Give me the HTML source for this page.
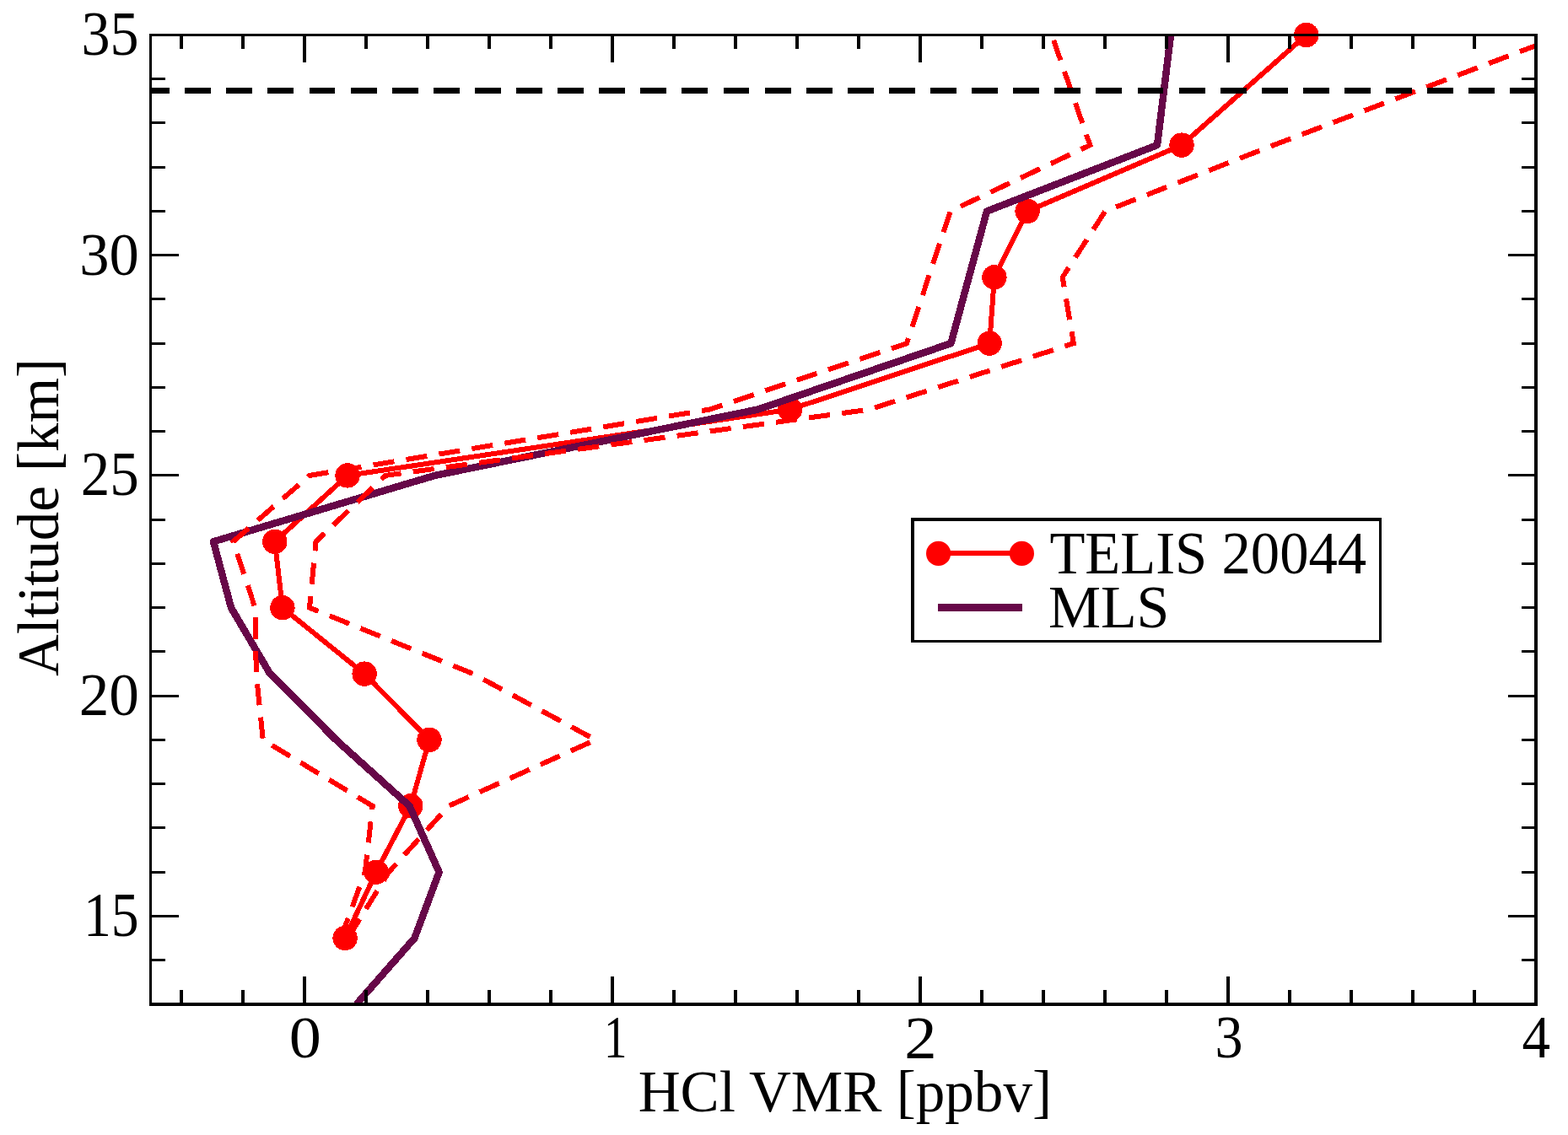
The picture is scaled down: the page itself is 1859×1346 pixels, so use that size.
<!DOCTYPE html><html><head><meta charset="utf-8"><title>HCl VMR profile</title>
<style>html,body{margin:0;padding:0;background:#fff;overflow:hidden;}svg{display:block;}text{font-family:"Liberation Serif", "Times New Roman", serif;fill:#000;}</style></head><body>
<svg width="1859" height="1346" viewBox="0 0 1859 1346">
<rect x="0" y="0" width="1859" height="1346" fill="#fff"/>
<defs><clipPath id="pc"><rect x="178.5" y="41.5" width="1642.5" height="1154"/></clipPath></defs>
<g clip-path="url(#pc)" fill="none" stroke-linejoin="round" shape-rendering="crispEdges">
<polyline points="1548.8,41.5 1401.0,172.1 1218.1,250.5 1178.9,328.8 1173.2,407.2 936.6,485.6 412.0,563.9 325.8,642.3 334.9,720.7 432.1,799.1 509.0,877.4 486.8,955.8 446.0,1034.2 409.1,1112.5" stroke="#ff0000" stroke-width="6"/>
</g>
<circle cx="1548.8" cy="41.5" r="14.7" fill="#ff0000" stroke="none" shape-rendering="crispEdges"/>
<circle cx="1401.0" cy="172.1" r="14.7" fill="#ff0000" stroke="none" shape-rendering="crispEdges"/>
<circle cx="1218.1" cy="250.5" r="14.7" fill="#ff0000" stroke="none" shape-rendering="crispEdges"/>
<circle cx="1178.9" cy="328.8" r="14.7" fill="#ff0000" stroke="none" shape-rendering="crispEdges"/>
<circle cx="1173.2" cy="407.2" r="14.7" fill="#ff0000" stroke="none" shape-rendering="crispEdges"/>
<circle cx="936.6" cy="485.6" r="14.7" fill="#ff0000" stroke="none" shape-rendering="crispEdges"/>
<circle cx="412.0" cy="563.9" r="14.7" fill="#ff0000" stroke="none" shape-rendering="crispEdges"/>
<circle cx="325.8" cy="642.3" r="14.7" fill="#ff0000" stroke="none" shape-rendering="crispEdges"/>
<circle cx="334.9" cy="720.7" r="14.7" fill="#ff0000" stroke="none" shape-rendering="crispEdges"/>
<circle cx="432.1" cy="799.1" r="14.7" fill="#ff0000" stroke="none" shape-rendering="crispEdges"/>
<circle cx="509.0" cy="877.4" r="14.7" fill="#ff0000" stroke="none" shape-rendering="crispEdges"/>
<circle cx="486.8" cy="955.8" r="14.7" fill="#ff0000" stroke="none" shape-rendering="crispEdges"/>
<circle cx="446.0" cy="1034.2" r="14.7" fill="#ff0000" stroke="none" shape-rendering="crispEdges"/>
<circle cx="409.1" cy="1112.5" r="14.7" fill="#ff0000" stroke="none" shape-rendering="crispEdges"/>
<g clip-path="url(#pc)" fill="none" stroke-linejoin="round" shape-rendering="crispEdges">
<polyline points="1388.0,41.5 1372.0,172.1 1170.0,250.5 1127.4,407.2 898.5,485.6 515.5,563.9 253.0,642.3 274.0,720.7 320.2,799.1 398.4,877.4 485.5,955.8 520.6,1034.2 491.5,1112.5 422.6,1190.9" stroke="#670748" stroke-width="8.5"/>
<polyline points="404.0,1112.5 432.8,1034.2 441.7,955.8 311.8,877.4 303.8,799.1 302.4,720.7 276.4,642.3 367.0,563.9 841.0,485.6 1075.0,407.2 1126.7,250.5 1292.3,172.1 1247.0,41.5" stroke="#ff0000" stroke-width="6" stroke-dasharray="25.2 14.28" stroke-dashoffset="0" stroke-linejoin="miter"/>
<polyline points="412.5,1112.5 461.0,1034.2 532.0,955.8 706.0,877.4 561.0,799.1 367.0,720.7 374.5,642.3 457.0,563.9 1031.0,485.6 1272.9,407.2 1259.7,328.8 1310.3,250.5 1510.0,172.1 1854.0,41.5" stroke="#ff0000" stroke-width="6" stroke-dasharray="25.2 14.28" stroke-dashoffset="-1.3" stroke-linejoin="miter"/>
<line x1="178.5" y1="107.5" x2="1821" y2="107.5" stroke="#000" stroke-width="7" stroke-dasharray="30.9 18.2" stroke-dashoffset="8.4"/>
</g>
<g fill="#000" shape-rendering="crispEdges"><rect x="177" y="40" width="1646" height="3"/><rect x="177" y="1189" width="1646" height="4"/><rect x="177" y="40" width="3" height="1153"/><rect x="1819" y="40" width="4" height="1153"/><rect x="180" y="1137" width="16" height="3"/><rect x="1804" y="1137" width="15" height="3"/><rect x="180" y="1085" width="32" height="3"/><rect x="1788" y="1085" width="31" height="3"/><rect x="180" y="1033" width="16" height="3"/><rect x="1804" y="1033" width="15" height="3"/><rect x="180" y="980" width="16" height="3"/><rect x="1804" y="980" width="15" height="3"/><rect x="180" y="928" width="16" height="3"/><rect x="1804" y="928" width="15" height="3"/><rect x="180" y="876" width="16" height="3"/><rect x="1804" y="876" width="15" height="3"/><rect x="180" y="824" width="32" height="3"/><rect x="1788" y="824" width="31" height="3"/><rect x="180" y="771" width="16" height="3"/><rect x="1804" y="771" width="15" height="3"/><rect x="180" y="719" width="16" height="3"/><rect x="1804" y="719" width="15" height="3"/><rect x="180" y="667" width="16" height="3"/><rect x="1804" y="667" width="15" height="3"/><rect x="180" y="615" width="16" height="3"/><rect x="1804" y="615" width="15" height="3"/><rect x="180" y="562" width="32" height="3"/><rect x="1788" y="562" width="31" height="3"/><rect x="180" y="510" width="16" height="3"/><rect x="1804" y="510" width="15" height="3"/><rect x="180" y="458" width="16" height="3"/><rect x="1804" y="458" width="15" height="3"/><rect x="180" y="406" width="16" height="3"/><rect x="1804" y="406" width="15" height="3"/><rect x="180" y="353" width="16" height="3"/><rect x="1804" y="353" width="15" height="3"/><rect x="180" y="301" width="32" height="3"/><rect x="1788" y="301" width="31" height="3"/><rect x="180" y="249" width="16" height="3"/><rect x="1804" y="249" width="15" height="3"/><rect x="180" y="197" width="16" height="3"/><rect x="1804" y="197" width="15" height="3"/><rect x="180" y="144" width="16" height="3"/><rect x="1804" y="144" width="15" height="3"/><rect x="180" y="92" width="16" height="3"/><rect x="1804" y="92" width="15" height="3"/><rect x="213" y="43" width="4" height="15"/><rect x="213" y="1174" width="4" height="15"/><rect x="286" y="43" width="4" height="15"/><rect x="286" y="1174" width="4" height="15"/><rect x="359" y="43" width="4" height="31"/><rect x="359" y="1158" width="4" height="31"/><rect x="432" y="43" width="4" height="15"/><rect x="432" y="1174" width="4" height="15"/><rect x="505" y="43" width="4" height="15"/><rect x="505" y="1174" width="4" height="15"/><rect x="578" y="43" width="4" height="15"/><rect x="578" y="1174" width="4" height="15"/><rect x="651" y="43" width="4" height="15"/><rect x="651" y="1174" width="4" height="15"/><rect x="724" y="43" width="4" height="31"/><rect x="724" y="1158" width="4" height="31"/><rect x="797" y="43" width="4" height="15"/><rect x="797" y="1174" width="4" height="15"/><rect x="870" y="43" width="4" height="15"/><rect x="870" y="1174" width="4" height="15"/><rect x="943" y="43" width="4" height="15"/><rect x="943" y="1174" width="4" height="15"/><rect x="1016" y="43" width="4" height="15"/><rect x="1016" y="1174" width="4" height="15"/><rect x="1089" y="43" width="4" height="31"/><rect x="1089" y="1158" width="4" height="31"/><rect x="1162" y="43" width="4" height="15"/><rect x="1162" y="1174" width="4" height="15"/><rect x="1235" y="43" width="4" height="15"/><rect x="1235" y="1174" width="4" height="15"/><rect x="1308" y="43" width="4" height="15"/><rect x="1308" y="1174" width="4" height="15"/><rect x="1381" y="43" width="4" height="15"/><rect x="1381" y="1174" width="4" height="15"/><rect x="1454" y="43" width="4" height="31"/><rect x="1454" y="1158" width="4" height="31"/><rect x="1527" y="43" width="4" height="15"/><rect x="1527" y="1174" width="4" height="15"/><rect x="1600" y="43" width="4" height="15"/><rect x="1600" y="1174" width="4" height="15"/><rect x="1673" y="43" width="4" height="15"/><rect x="1673" y="1174" width="4" height="15"/><rect x="1746" y="43" width="4" height="15"/><rect x="1746" y="1174" width="4" height="15"/></g>
<text font-size="100" transform="matrix(0.6813,0,0,0.7313,96.49,65.27)">35</text>
<text font-size="100" transform="matrix(0.7055,0,0,0.7096,94.27,326.09)">30</text>
<text font-size="100" transform="matrix(0.6907,0,0,0.7299,95.69,586.97)">25</text>
<text font-size="100" transform="matrix(0.7126,0,0,0.7126,93.69,848.19)">20</text>
<text font-size="100" transform="matrix(0.6575,0,0,0.7353,98.88,1110.16)">15</text>
<text font-size="100" transform="matrix(0.7619,0,0,0.7081,342.85,1254.09)">0</text>
<text font-size="100" transform="matrix(0.5486,0,0,0.7191,715.96,1254.00)">1</text>
<text font-size="100" transform="matrix(0.7675,0,0,0.7212,1072.25,1254.90)">2</text>
<text font-size="100" transform="matrix(0.6610,0,0,0.7164,1440.60,1254.18)">3</text>
<text font-size="100" transform="matrix(0.6710,0,0,0.7231,1804.56,1254.36)">4</text>
<text font-size="100" transform="matrix(0.6914,0,0,0.6900,756.63,1318.41)">HCl VMR [ppbv]</text>
<text font-size="100" transform="matrix(0,-0.6889,0.7067,0,68.56,801.89)">Altitude [km]</text>
<g shape-rendering="crispEdges"><rect x="1080" y="614" width="558" height="148" fill="#000"/><rect x="1084" y="618" width="551" height="141" fill="#fff"/><rect x="1113" y="653" width="98" height="6" fill="#ff0000"/><rect x="1112" y="716" width="100" height="9" fill="#670748"/></g>
<circle cx="1112.6" cy="656.4" r="14.6" fill="#ff0000"/>
<circle cx="1211.4" cy="656.4" r="14.6" fill="#ff0000"/>
<text font-size="100" transform="matrix(0.6867,0,0,0.7126,1244.43,680.29)">TELIS 20044</text>
<text font-size="100" transform="matrix(0.6982,0,0,0.7194,1242.91,744.28)">MLS</text>
</svg></body></html>
